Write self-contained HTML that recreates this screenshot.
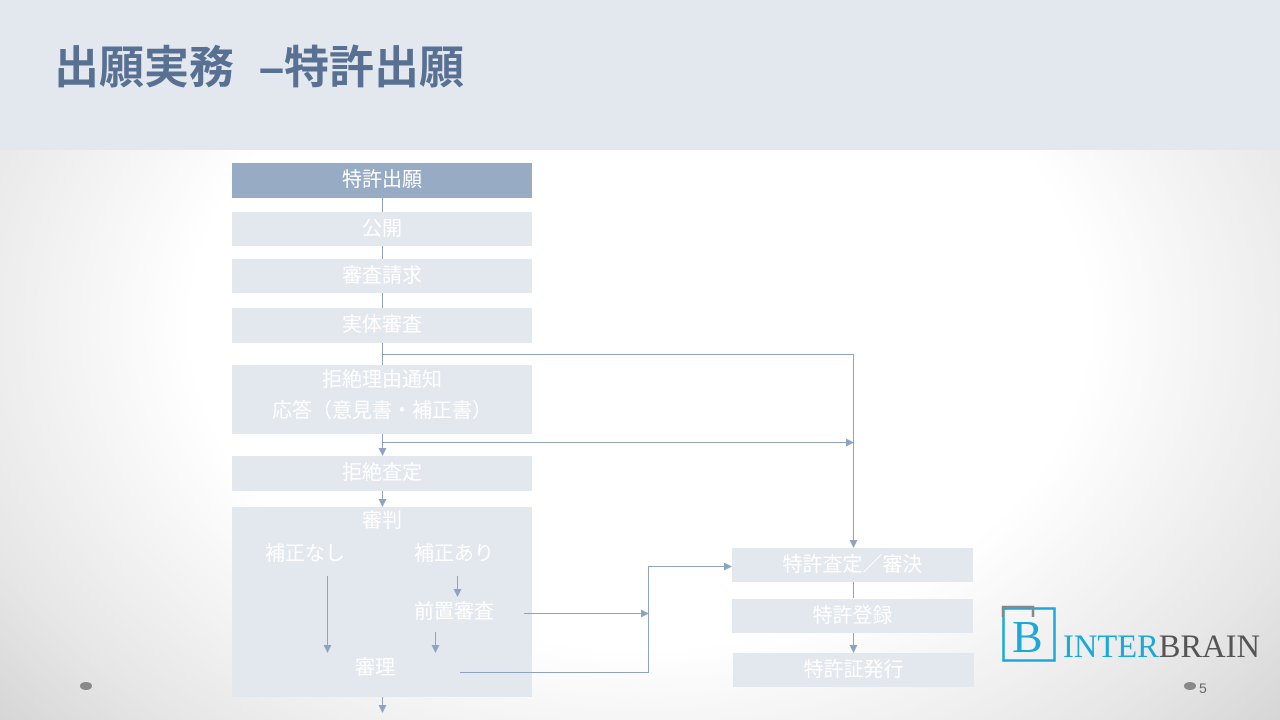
<!DOCTYPE html>
<html><head><meta charset="utf-8"><style>
*{margin:0;padding:0;box-sizing:border-box}
body{width:1280px;height:720px;position:relative;overflow:hidden;font-family:"Liberation Sans","Noto Sans CJK JP",sans-serif;background:radial-gradient(ellipse 70% 90% at 50% 45%,#ffffff 50%,#e6e6e6 80%,#cfcfcf 100%)}
.top{position:absolute;left:0;top:0;width:1280px;height:150px;background:#e3e8ef}
.title{position:absolute;left:54px;top:42px;font-size:45px;font-weight:bold;color:#587193;letter-spacing:0px;line-height:52px;white-space:nowrap}
.b{position:absolute;background:#e3e7ee;color:#fff;font-size:20px;text-align:center;line-height:34px}
.t{position:absolute;color:#fff;font-size:20px;white-space:nowrap;line-height:24px}
</style></head><body>
<div class="top"></div>
<div class="title">出願実務&nbsp;&nbsp;–特許出願</div>
<div class="b" style="left:232px;top:163px;width:300px;height:35px;background:#98abc4">特許出願</div>
<div class="b" style="left:232px;top:212px;width:300px;height:34px">公開</div>
<div class="b" style="left:232px;top:259px;width:300px;height:34px">審査請求</div>
<div class="b" style="left:232px;top:308px;width:300px;height:35px">実体審査</div>
<div class="b" style="left:232px;top:365px;width:300px;height:69px;line-height:31px;padding-top:0px">拒絶理由通知<br>応答（意見書・補正書）</div>
<div class="b" style="left:232px;top:456px;width:300px;height:35px">拒絶査定</div>
<div class="b" style="left:232px;top:507px;width:300px;height:190px"></div>
<div class="t" style="left:362px;top:509px">審判</div>
<div class="t" style="left:265px;top:542px">補正なし</div>
<div class="t" style="left:414px;top:542px">補正あり</div>
<div class="t" style="left:414px;top:600px">前置審査</div>
<div class="t" style="left:355px;top:656px">審理</div>
<div class="b" style="left:732px;top:548px;width:241px;height:34px">特許査定／審決</div>
<div class="b" style="left:732px;top:599px;width:241px;height:34px">特許登録</div>
<div class="b" style="left:733px;top:653px;width:241px;height:34px">特許証発行</div>
<svg style="position:absolute;left:0;top:0" width="1280" height="720">
<defs><marker id="a" markerWidth="8" markerHeight="8" refX="7" refY="4" orient="auto" markerUnits="userSpaceOnUse"><path d="M0,0L8,4L0,8z" fill="#8fa3bf"/></marker></defs>
<g stroke="#8fa3bf" stroke-width="1" fill="none">
<path d="M382.5 198V212M382.5 246V259M382.5 293V308M382.5 343V365"/>
<path d="M382 354.5H853.5V547" marker-end="url(#a)"/>
<path d="M382.5 434V455" marker-end="url(#a)"/>
<path d="M382 442.5H853" marker-end="url(#a)"/>
<path d="M382.5 491V506" marker-end="url(#a)"/>
<path d="M327.5 576V652" marker-end="url(#a)"/>
<path d="M457.5 576V596" marker-end="url(#a)"/>
<path d="M435.5 632V652" marker-end="url(#a)"/>
<path d="M524 613.5H648" marker-end="url(#a)"/>
<path d="M460 672.5H648.5V566.5H731" marker-end="url(#a)"/>
<path d="M382.5 697V712" marker-end="url(#a)"/>
<path d="M853.5 582V598M853.5 633V652" />
<path d="M853.5 640V652" marker-end="url(#a)"/>
</g>
<ellipse cx="86" cy="686" rx="6" ry="4" fill="#888"/>
<ellipse cx="1190" cy="686" rx="6" ry="4" fill="#888"/>
<text x="1199" y="693" font-family="Liberation Sans" font-size="14" fill="#666">5</text>
<rect x="1003.5" y="608.5" width="51" height="52" fill="none" stroke="#1aa9da" stroke-width="2.5"/>
<path d="M1003 617V607H1033V617" fill="none" stroke="#888" stroke-width="2.5"/>
<text x="1012" y="652" font-family="Liberation Serif" font-size="46" fill="#1aa9da">B</text>
<text x="1063" y="657" font-family="Liberation Serif" font-size="33" fill="#1aa9da" textLength="197" lengthAdjust="spacingAndGlyphs">INTER<tspan fill="#555">BRAIN</tspan></text>
</svg>
</body></html>
